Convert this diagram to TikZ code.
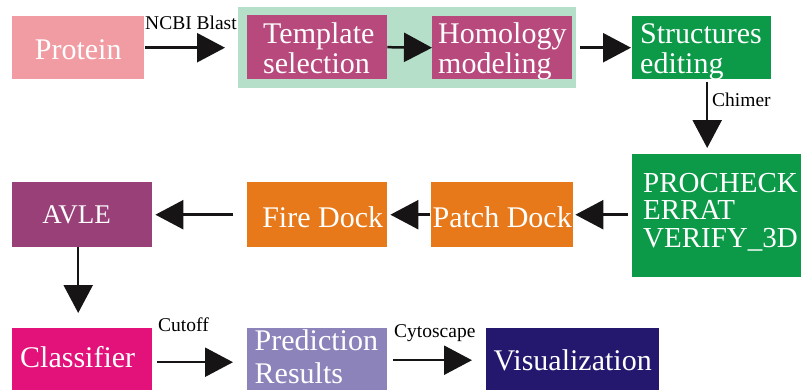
\documentclass[tikz,border=0pt]{standalone}
\usepackage{fontspec}
\setmainfont{Liberation Serif}
\usetikzlibrary{arrows.meta}
\definecolor{cprot}{RGB}{241,156,163}
\definecolor{ccont}{RGB}{181,223,201}
\definecolor{cmag}{RGB}{183,73,125}
\definecolor{cgreen}{RGB}{12,154,72}
\definecolor{corange}{RGB}{232,121,26}
\definecolor{cavle}{RGB}{153,64,120}
\definecolor{cclass}{RGB}{226,18,122}
\definecolor{cpred}{RGB}{140,131,187}
\definecolor{cvis}{RGB}{36,24,110}
\definecolor{carrow}{RGB}{22,20,20}
\begin{document}
\begin{tikzpicture}[x=1pt,y=-1pt,
  box/.style={inner sep=0pt, text=white, anchor=north west,
    font=\fontsize{30}{30}\selectfont},
  arr/.style={line width=2.5pt, draw=carrow,
    -{Triangle[length=28pt,width=29pt,fill=carrow]}},
  lbl/.style={inner sep=0pt, anchor=base west, text=black,
    font=\fontsize{19.5}{22}\selectfont}]
\useasboundingbox (0,0) rectangle (801,389);
\clip (0,0) rectangle (801,389);
% top row
\node[box, fill=cprot, minimum width=132pt, minimum height=63pt,
  text height=43pt, text depth=20pt] (protein) at (12,16) {Protein};
\node[fill=ccont, inner sep=0pt, anchor=north west,
  minimum width=338pt, minimum height=81pt] (cont) at (238,7) {};
\node[box, fill=cmag, minimum width=140pt, minimum height=64pt,
  text width=108pt, align=left, text height=28pt, text depth=36pt]
  (templ) at (247,15) {Template\\selection};
\node[box, fill=cmag, minimum width=140pt, minimum height=63pt,
  text width=128pt, align=left, text height=27pt, text depth=36pt]
  (homol) at (432,16) {Homology\\modeling};
\node[box, fill=cgreen, minimum width=139pt, minimum height=63pt,
  text width=123pt, align=left, text height=27pt, text depth=36pt]
  (struct) at (632,16) {Structures\\editing};
% middle row
\node[box, fill=cgreen, minimum width=200pt, minimum height=123pt,
  inner xsep=11pt, text width=178pt, align=left,
  font=\fontsize{29}{27.5}\selectfont,
  text height=38pt, text depth=85pt]
  (proc) at (632,154) {PROCHECK\\ERRAT\\VERIFY\_3D};
\node[box, fill=corange, minimum width=142pt, minimum height=65pt,
  text height=45pt, text depth=20pt] (patch) at (431,182) {Patch Dock};
\node[box, fill=corange, minimum width=140pt, minimum height=65pt,
  text height=45pt, text depth=20pt] (fire) at (247,182) {\hspace*{11pt}Fire Dock};
\node[box, fill=cavle, minimum width=140pt, minimum height=65pt,
  font=\fontsize{27}{27}\selectfont,
  text height=41pt, text depth=24pt] (avle) at (12,182) {AVLE\hspace*{11pt}};
% bottom row
\node[box, fill=cclass, minimum width=140pt, minimum height=72pt,
  text height=39pt, text depth=33pt] (class) at (12,328) {Classifier\hspace*{9pt}};
\node[box, fill=cpred, minimum width=140pt, minimum height=72pt,
  text width=125pt, align=left, font=\fontsize{30}{33}\selectfont,
  text height=22pt, text depth=50pt] (pred) at (247,328) {Prediction\\Results};
\node[box, fill=cvis, minimum width=173pt, minimum height=72pt,
  text height=42pt, text depth=30pt] (vis) at (486,328) {Visualization};
% connectors
\draw[arr, shorten <=1pt, shorten >=13pt] (protein.east) -- (cont.west);
\draw[arr] (templ.east) -- (homol.west);
\draw[arr, shorten <=4pt, shorten >=1pt] (cont.east) -- (struct.west);
\draw[arr, shorten <=3pt, shorten >=6pt]
  ([xshift=5.5pt]struct.south) -- ([xshift=5.5pt]struct.south |- proc.north);
\draw[arr, shorten <=4pt, shorten >=2pt] (proc.west |- patch.east) -- (patch.east);
\draw[arr, shorten <=1pt, shorten >=3pt] (patch.west) -- (fire.east);
\draw[arr, shorten <=14pt, shorten >=3pt] (fire.west) -- (avle.east);
\draw[arr, shorten <=0pt, shorten >=15pt]
  ([xshift=-4pt]avle.south) -- ([xshift=-4pt]avle.south |- class.north);
\draw[arr, shorten <=5pt, shorten >=14pt]
  ([yshift=2pt]class.east) -- ([yshift=2pt]class.east -| pred.west);
\draw[arr, shorten <=6pt, shorten >=14pt]
  ([yshift=4pt]pred.east) -- ([yshift=4pt]pred.east -| vis.west);
% labels
\node[lbl] (lncbi) at (145,29) {NCBI Blast};
\node[lbl] (lchim) at (712,106) {Chimer};
\node[lbl] (lcut) at (158,331) {Cutoff};
\node[lbl] (lcyto) at (394,337) {Cytoscape};
\end{tikzpicture}
\end{document}
